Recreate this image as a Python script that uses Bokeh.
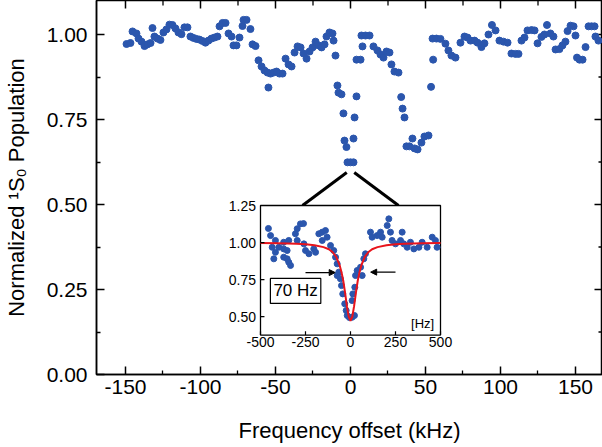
from bokeh.plotting import figure
from bokeh.models import (Range1d, FixedTicker, PrintfTickFormatter,
                          Label, Arrow, NormalHead)
from bokeh.core.properties import value
from bokeh.embed import file_html
from bokeh.resources import INLINE

# ---------------- main data (kHz, normalized population) ----------------
freq_khz = [
    -149.3, -146.7, -145.3, -142.7, -141.3, -139.3, -137.3, -135.3, -133.3, -132.0,
    -130.7, -128.7, -126.7, -124.7, -122.7, -120.7, -118.7, -116.7, -114.7, -112.7,
    -110.7, -108.7, -106.7, -104.7, -102.7, -100.7, -98.7, -96.7, -94.7, -92.7,
    -90.7, -88.7, -87.3, -85.3, -83.3, -81.3, -79.3, -78.0, -76.0, -74.0,
    -72.0, -71.3, -69.3, -66.7, -65.3, -63.3, -61.3, -59.3, -57.3, -55.3,
    -54.7, -53.3, -51.3, -49.3, -47.3, -45.3, -43.3, -41.3, -39.3, -37.3,
    -35.3, -33.3, -31.3, -29.3, -27.3, -25.3, -23.3, -21.3, -19.3, -17.3,
    -16.0, -14.0, -12.0, -11.3, -10.0, -8.7, -8.0, -6.0, -4.7, -4.0,
    -2.7, -2.0, 0.0, 2.0, 2.0, 2.7, 4.0, 4.0, 6.7, 8.0,
    7.3, 10.0, 12.7, 15.3, 18.0, 20.0, 22.0, 24.0, 26.0, 27.3,
    29.3, 32.0, 33.8, 34.7, 36.0, 37.3, 39.3, 41.3, 42.7, 44.7,
    47.3, 49.3, 52.0, 53.7, 55.1, 54.7, 57.3, 60.0, 63.3, 65.3,
    67.3, 70.0, 73.3, 76.0, 78.0, 80.0, 82.7, 84.7, 87.3, 89.3,
    92.0, 94.3, 96.7, 99.3, 102.0, 104.7, 107.3, 110.0, 112.0, 114.0,
    116.0, 118.0, 120.7, 122.7, 124.7, 127.3, 129.3, 131.0, 133.3, 135.3,
    136.7, 139.3, 141.3, 143.3, 144.7, 146.7, 148.7, 150.0, 151.0, 152.7,
    154.7, 156.7, 158.7, 160.7, 162.7, 163.3, 165.3,
]
population = [
    0.972, 0.975, 1.009, 1.003, 0.988, 0.979, 0.966, 0.971, 0.975, 1.019,
    0.994, 0.988, 0.984, 1.006, 1.015, 1.029, 1.028, 1.018, 1.006, 1.001,
    1.021, 1.021, 0.994, 0.990, 0.987, 0.985, 0.981, 0.976, 0.982, 0.988,
    0.991, 0.994, 1.024, 1.034, 1.034, 1.003, 0.994, 0.968, 0.968, 0.991,
    1.025, 1.043, 1.043, 1.016, 0.971, 0.966, 0.924, 0.906, 0.894, 0.888,
    0.844, 0.885, 0.888, 0.891, 0.885, 0.885, 0.929, 0.912, 0.906, 0.947,
    0.965, 0.962, 0.944, 0.929, 0.950, 0.962, 0.979, 0.968, 0.962, 0.971,
    0.994, 1.006, 1.003, 0.982, 0.938, 0.850, 0.829, 0.824, 0.768, 0.688,
    0.669, 0.624, 0.624, 0.624, 0.694, 0.756, 0.818, 0.926, 0.926, 0.965,
    0.997, 0.997, 0.997, 0.965, 0.953, 0.941, 0.932, 0.950, 0.947, 0.912,
    0.891, 0.888, 0.816, 0.782, 0.756, 0.671, 0.671, 0.694, 0.665, 0.662,
    0.682, 0.700, 0.703, 0.846, 0.926, 0.988, 0.988, 0.987, 0.973, 0.953,
    0.938, 0.932, 0.976, 0.994, 0.991, 0.982, 0.982, 0.976, 0.963, 0.974,
    1.000, 1.028, 1.012, 0.982, 0.979, 0.976, 0.944, 0.943, 0.943, 0.982,
    0.991, 1.012, 1.013, 1.012, 0.974, 0.993, 1.000, 1.028, 1.003, 0.994,
    0.956, 0.957, 0.968, 0.979, 1.010, 1.026, 1.024, 0.997, 0.932, 0.926,
    0.926, 0.963, 1.024, 1.024, 1.024, 0.994, 0.982,
]

# ---------------- inset data (Hz, normalized population) ----------------
inset_hz = [
    -456, -444, -435, -426, -417, -417, -398, -371, -371, -371,
    -352, -352, -343, -333, -343, -306, -296, -278, -261, -296,
    -259, -250, -231, -204, -194, -176, -157, -139, -157, -130,
    -111, -93, -83, -74, -65, -74, -56, -50, -43, -32,
    -24, -18, -6, 9, 22, 9, 13, 24, 28, 37,
    56, 65, 74, 83, 111, 120, 148, 167, 176, 204,
    213, 222, 231, 250, 278, 287, 296, 315, 333, 352,
    380, 398, 426, 454, 472, 481,
]
inset_pop = [
    1.095, 1.047, 0.968, 0.890, 0.934, 1.014, 0.968, 0.957, 1.002, 0.901,
    0.946, 0.890, 0.867, 0.845, 1.014, 1.059, 1.093, 1.126, 1.128, 1.014,
    0.991, 0.946, 0.924, 0.957, 0.934, 1.059, 1.070, 1.081, 1.014, 1.036,
    0.980, 0.946, 0.901, 0.856, 0.800, 0.777, 0.755, 0.709, 0.653, 0.586,
    0.541, 0.507, 0.493, 0.495, 0.507, 0.608, 0.653, 0.698, 0.777, 0.811,
    0.833, 0.777, 0.890, 0.924, 1.070, 1.036, 1.047, 1.070, 1.036, 1.115,
    1.160, 1.070, 1.014, 0.991, 1.014, 1.070, 0.991, 0.968, 1.002, 0.957,
    0.968, 1.002, 0.968, 1.036, 1.014, 0.968,
]

# fitted curve (red)
fit_hz = [-500, -400, -300, -250, -200, -150, -120, -100, -80, -60, -50, -40, -30,
          -20, -10, 0, 10, 20, 30, 40, 50, 60, 80, 100, 120, 150, 200, 250, 300, 400, 500]
fit_pop = [0.996, 0.995, 0.992, 0.989, 0.982, 0.969, 0.955, 0.936, 0.905, 0.845, 0.80,
           0.74, 0.66, 0.57, 0.50, 0.47, 0.50, 0.57, 0.66, 0.74, 0.80, 0.845, 0.905,
           0.936, 0.955, 0.969, 0.982, 0.989, 0.992, 0.995, 0.996]

# ticks
x_ticks = [-150, -100, -50, 0, 50, 100, 150]
x_tick_labels = ["-150", "-100", "-50", "0", "50", "100", "150"]
y_ticks = [0.0, 0.25, 0.5, 0.75, 1.0]
inset_x_ticks = [-500, -250, 0, 250, 500]
inset_x_labels = ["-500", "-250", "0", "250", "500"]
inset_y_ticks = [0.5, 0.75, 1.0, 1.25]
inset_y_labels = ["0.50", "0.75", "1.00", "1.25"]

# texts
x_title = "Frequency offset (kHz)"
y_title = "Normalized \u00b9S\u2080 Population"
fwhm_text = "70 Hz"
unit_text = "[Hz]"

# ---------------- layout constants ----------------
W, H = 602, 447
BL, BR, BT, BB = 96, 0, 0, 73
FRAME_W, FRAME_H = W - BL - BR, H - BT - BB
X_RANGE = (-169.33, 168.0)
Y_RANGE = (0.0, 1.1)
INSET_X0, INSET_X1 = -60.0, 60.0      # inset box in main coordinates
INSET_Y0, INSET_Y1 = 0.116, 0.497
INSET_XLIM = (-500.0, 500.0)
INSET_YLIM = (0.375, 1.25)

BLUE = "#2b56ad"
RED = "#e8141c"
FONT = "Liberation Sans"

p = figure(width=W, height=H, x_range=Range1d(*X_RANGE), y_range=Range1d(*Y_RANGE),
           output_backend="svg", toolbar_location=None,
           min_border_left=BL, min_border_right=BR, min_border_top=BT, min_border_bottom=BB)
p.grid.visible = False
p.outline_line_color = "black"
p.outline_line_width = 1.5
p.background_fill_color = "white"
p.border_fill_color = "white"

x_minor = [(a + b) / 2 for a, b in zip(x_ticks[:-1], x_ticks[1:])]
y_minor = [(a + b) / 2 for a, b in zip(y_ticks[:-1], y_ticks[1:])]


def style_axis(ax):
    ax.axis_line_width = 1.5
    ax.axis_line_color = "black"
    ax.major_tick_in = 8
    ax.major_tick_out = 0
    ax.minor_tick_in = 4
    ax.minor_tick_out = 0
    ax.major_tick_line_width = 1.5
    ax.minor_tick_line_width = 1.3
    ax.major_tick_line_color = "black"
    ax.minor_tick_line_color = "black"
    ax.major_label_text_font = FONT
    ax.major_label_text_color = "black"
    ax.major_label_text_font_size = "21px"
    ax.axis_label_text_font = FONT
    ax.axis_label_text_font_style = "normal"
    ax.axis_label_text_font_size = "22px"
    ax.axis_label_text_color = "black"


xa = p.xaxis[0]
xa.ticker = FixedTicker(ticks=x_ticks, minor_ticks=x_minor)
xa.major_label_overrides = {t: s for t, s in zip(x_ticks, x_tick_labels)}
style_axis(xa)
xa.major_label_standoff = 5
xa.axis_label = x_title
xa.axis_label_standoff = 21

ya = p.yaxis[0]
ya.ticker = FixedTicker(ticks=y_ticks, minor_ticks=y_minor)
ya.formatter = PrintfTickFormatter(format="%.2f")
style_axis(ya)
ya.major_label_standoff = 9
ya.axis_label = y_title
ya.axis_label_standoff = 15

# mirrored inward ticks on top and right edges of the frame
px_y = (Y_RANGE[1] - Y_RANGE[0]) / FRAME_H   # data units per pixel
px_x = (X_RANGE[1] - X_RANGE[0]) / FRAME_W
top_major = [t for t in x_ticks if X_RANGE[0] < t < X_RANGE[1]]
top_minor = [t for t in x_minor if X_RANGE[0] < t < X_RANGE[1]]
p.segment(x0=top_major, y0=[Y_RANGE[1]] * len(top_major), x1=top_major,
          y1=[Y_RANGE[1] - 8 * px_y] * len(top_major), line_color="black", line_width=1.5)
p.segment(x0=top_minor, y0=[Y_RANGE[1]] * len(top_minor), x1=top_minor,
          y1=[Y_RANGE[1] - 5 * px_y] * len(top_minor), line_color="black", line_width=1.3)
r_major = [t for t in y_ticks if Y_RANGE[0] < t < Y_RANGE[1]]
r_minor = [t for t in y_minor if Y_RANGE[0] < t < Y_RANGE[1]]
p.segment(x0=[X_RANGE[1]] * len(r_major), y0=r_major, x1=[X_RANGE[1] - 8 * px_x] * len(r_major),
          y1=r_major, line_color="black", line_width=1.5)
p.segment(x0=[X_RANGE[1]] * len(r_minor), y0=r_minor, x1=[X_RANGE[1] - 4 * px_x] * len(r_minor),
          y1=r_minor, line_color="black", line_width=1.3)

# main scatter
p.scatter(freq_khz, population, size=7, fill_color=BLUE, line_color=BLUE)

# ---------------- inset via extra ranges ----------------
ax_scale = (INSET_XLIM[1] - INSET_XLIM[0]) / (INSET_X1 - INSET_X0)
ay_scale = (INSET_YLIM[1] - INSET_YLIM[0]) / (INSET_Y1 - INSET_Y0)
p.extra_x_ranges = {"ix": Range1d(INSET_XLIM[0] + (X_RANGE[0] - INSET_X0) * ax_scale,
                                  INSET_XLIM[0] + (X_RANGE[1] - INSET_X0) * ax_scale)}
p.extra_y_ranges = {"iy": Range1d(INSET_YLIM[0] + (Y_RANGE[0] - INSET_Y0) * ay_scale,
                                  INSET_YLIM[0] + (Y_RANGE[1] - INSET_Y0) * ay_scale)}
IR = dict(x_range_name="ix", y_range_name="iy")

# connecting lines (from the dip of the main curve to the inset top)
dip_y = min(population) - 0.03
p.segment(x0=[-2.5, 2.5], y0=[dip_y, dip_y], x1=[-32.0, 32.0], y1=[INSET_Y1, INSET_Y1],
          line_color="black", line_width=3)

p.quad(left=[INSET_XLIM[0]], right=[INSET_XLIM[1]], bottom=[INSET_YLIM[0]], top=[INSET_YLIM[1]],
       fill_color="white", line_color="black", line_width=1.3, **IR)

p.scatter(inset_hz, inset_pop, size=6, fill_color=BLUE, line_color=BLUE, **IR)
p.line(fit_hz, fit_pop, line_color=RED, line_width=2, **IR)

xspan = INSET_XLIM[1] - INSET_XLIM[0]
yspan = INSET_YLIM[1] - INSET_YLIM[0]
tl_y = 0.03 * yspan
tl_x = 0.022 * xspan
n = len(inset_x_ticks)
p.segment(x0=inset_x_ticks, y0=[INSET_YLIM[0]] * n, x1=inset_x_ticks,
          y1=[INSET_YLIM[0] + tl_y] * n, line_color="black", line_width=1.2, **IR)
m = len(inset_y_ticks)
p.segment(x0=[INSET_XLIM[0]] * m, y0=inset_y_ticks, x1=[INSET_XLIM[0] + tl_x] * m,
          y1=inset_y_ticks, line_color="black", line_width=1.2, **IR)

p.text(x=inset_x_ticks, y=[INSET_YLIM[0] - 0.015 * yspan] * n, text=inset_x_labels,
       text_align="center", text_baseline="top", text_font=value(FONT),
       text_font_size=value("14px"), text_color="black", **IR)
p.text(x=[INSET_XLIM[0] - 0.025 * xspan] * m, y=inset_y_ticks, text=inset_y_labels,
       text_align="right", text_baseline="middle", text_font=value(FONT),
       text_font_size=value("14px"), text_color="black", **IR)

# FWHM arrows
p.add_layout(Arrow(end=NormalHead(size=6, fill_color="black", line_color="black"),
                   x_start=-250, y_start=0.797, x_end=-85, y_end=0.797,
                   line_color="black", line_width=1.2, **IR))
p.add_layout(Arrow(end=NormalHead(size=6, fill_color="black", line_color="black"),
                   x_start=250, y_start=0.80, x_end=112, y_end=0.80,
                   line_color="black", line_width=1.2, **IR))

p.add_layout(Label(x=-305, y=0.673, text=fwhm_text, text_align="center", text_baseline="middle",
                   text_font=FONT, text_font_size="17px", text_color="black",
                   border_line_color="black", border_line_width=1.2,
                   background_fill_color="white", padding=3, **IR))
p.add_layout(Label(x=465, y=0.456, text=unit_text, text_align="right", text_baseline="middle",
                   text_font=FONT, text_font_size="13px", text_color="black", **IR))

open("out.html", "w").write(file_html(p, INLINE))
